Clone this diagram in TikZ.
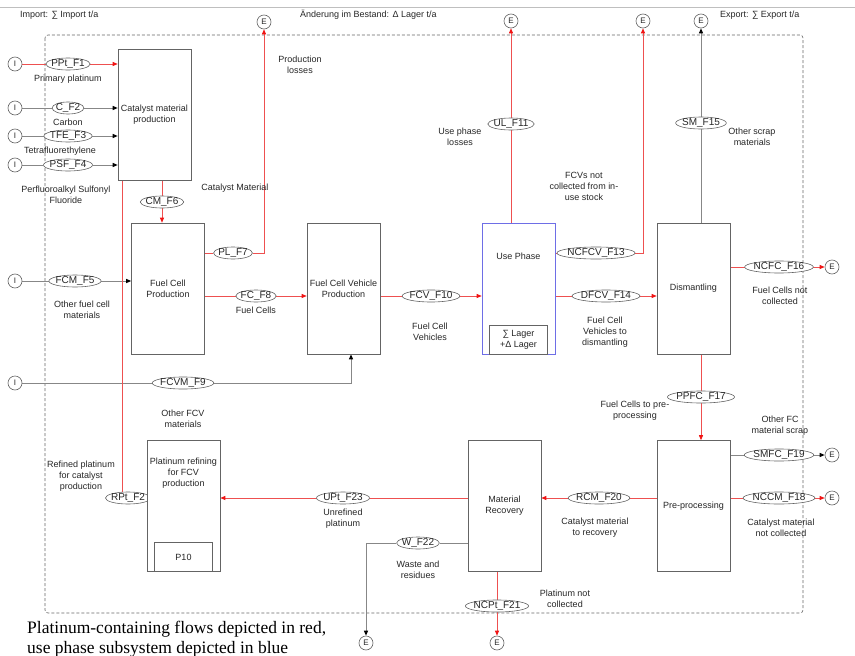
\documentclass[tikz,border=0pt]{standalone}
\usepackage{fontspec}
\setmainfont{Liberation Serif}
\setsansfont{Liberation Sans}
\usetikzlibrary{shapes.geometric, arrows.meta, positioning, backgrounds}
\definecolor{ptred}{RGB}{238,80,80}
\definecolor{tipred}{RGB}{240,20,20}
\definecolor{flowgray}{RGB}{135,135,135}
\definecolor{boxgray}{RGB}{100,100,100}
\definecolor{useblue}{RGB}{110,110,230}
\tikzset{
    base/.style = {
        draw=boxgray, line width=0.6pt, fill=white, text=black!85,
        align=center, font=\sffamily\fontsize{9}{11}\selectfont
    },
    % Processes and flows
    process/.style  = {base, rectangle, minimum width=73pt, minimum height=131pt, inner sep=0pt},
    stock/.style    = {base, rectangle, minimum width=58pt, minimum height=29pt, inner sep=0pt},
    flow/.style     = {base, ellipse, inner xsep=-1pt, inner ysep=0pt, text height=7pt, text depth=1.5pt,
                       font=\sffamily\fontsize{10}{11}\selectfont},
    terminal/.style = {base, circle, minimum size=14pt, inner sep=0pt, font=\sffamily\fontsize{8}{8}\selectfont},
    % Edges and annotations
    ptline/.style   = {draw=ptred, line width=0.7pt},
    ptflow/.style   = {ptline, -{Triangle[length=5pt, width=4pt, color=tipred]}},
    arrow/.style    = {draw=flowgray, line width=1pt, -{Triangle[length=5pt, width=4pt, color=black]}},
    boundary/.style = {draw=black!60, line width=0.6pt, dash pattern=on 3pt off 2pt, rounded corners=3pt},
    annotation/.style = {font=\sffamily\fontsize{9}{11}\selectfont, text=black!85, align=center, inner sep=1pt}
}

\begin{document}
\begin{tikzpicture}[x=1pt, y=-1pt]
    \useasboundingbox (0,0) rectangle (855,656);
    \draw [black!25, line width=0.8pt] (0,7) -- (855,7);

    \node (imp) [annotation, anchor=west] at (19,15) {Import: ∑ Import t/a};
    \node (chg) [annotation, anchor=west] at (299,15) {Änderung im Bestand: Δ Lager t/a};
    \node (exp) [annotation, anchor=west] at (719,15) {Export: ∑ Export t/a};

    % Processes
    \node (f2b) [flow] at (128,498) {RPt\_F2};
    \node (cmp)  [process] at (154.5,115) {Catalyst material\\production};
    \node (fcp)  [process] at (168,288.5) {Fuel Cell\\Production};
    \node (fcvp) [process] at (343.5,288.5) {Fuel Cell Vehicle\\Production};
    \node (use)  [process, draw=useblue] at (518.5,288.5) {};
    \node (usetxt) [annotation] at (518.5,256) {Use Phase};
    \node (lager) [stock, above=0pt of use.south] {∑ Lager\\+Δ Lager};
    \node (dis)  [process] at (693.5,288.5) {Dismantling};
    \node (pre)  [process] at (693.5,506) {Pre-processing};
    \node (mr)   [process] at (504.5,506) {Material\\Recovery};
    \node (pr)   [process] at (183.5,506) {};
    \node (prtxt) [annotation] at (183.5,473) {Platinum refining\\for FCV\\production};
    \node (p10)  [stock, above=0pt of pr.south] {P10};

    % Imports and exports
    \node (i1) [terminal] at (15,64) {I};
    \node (i2) [terminal] at (15,108) {I};
    \node (i3) [terminal] at (15,136) {I};
    \node (i4) [terminal] at (15,165) {I};
    \node (i5) [terminal] at (15,281) {I};
    \node (i6) [terminal] at (15,383) {I};
    \node (e1) [terminal] at (264,22) {E};
    \node (e2) [terminal] at (511,21) {E};
    \node (e3) [terminal] at (643,21) {E};
    \node (e4) [terminal] at (701,21) {E};
    \node (e5) [terminal] at (832,267) {E};
    \node (e6) [terminal] at (832,455) {E};
    \node (e7) [terminal] at (832,498) {E};
    \node (e8) [terminal] at (366,643) {E};
    \node (e9) [terminal] at (497,643) {E};

    % Flows
    \node (f1)  [flow] at (68,64) {PPt\_F1};
    \node (f2)  [flow] at (68,108) {C\_F2};
    \node (f3)  [flow] at (68,136) {TFE\_F3};
    \node (f4)  [flow] at (68,165) {PSF\_F4};
    \node (f5)  [flow] at (75,281) {FCM\_F5};
    \node (f6)  [flow] at (162,202) {CM\_F6};
    \node (f7)  [flow] at (233,253) {PL\_F7};
    \node (f8)  [flow] at (256,296) {FC\_F8};
    \node (f9)  [flow] at (183,383) {FCVM\_F9};
    \node (f10) [flow] at (431,296) {FCV\_F10};
    \node (f11) [flow] at (511,124) {UL\_F11};
    \node (f13) [flow] at (596,253) {NCFCV\_F13};
    \node (f14) [flow] at (606,296) {DFCV\_F14};
    \node (f15) [flow] at (701,123) {SM\_F15};
    \node (f16) [flow] at (779,267) {NCFC\_F16};
    \node (f17) [flow] at (701,397) {PPFC\_F17};
    \node (f18) [flow] at (779,498) {NCCM\_F18};
    \node (f19) [flow] at (779,455) {SMFC\_F19};
    \node (f20) [flow] at (599,498) {RCM\_F20};
    \node (f21) [flow] at (497,606) {NCPt\_F21};
    \node (f22) [flow] at (418,543) {W\_F22};
    \node (f23) [flow] at (343,498) {UPt\_F23};

    % Flow names
    \node (l1)  [annotation, below=3pt of f1] {Primary platinum};
    \node (l2)  [annotation, below=3pt of f2] {Carbon};
    \node (l3)  [annotation] at (60,151) {Tetrafluorethylene};
    \node (l4)  [annotation] at (66,195) {Perfluoroalkyl Sulfonyl\\Fluoride};
    \node (l5)  [annotation] at (82,310) {Other fuel cell\\materials};
    \node (l6)  [annotation] at (235,188) {Catalyst Material};
    \node (l7)  [annotation] at (300,65) {Production\\losses};
    \node (l8)  [annotation, below=3pt of f8] {Fuel Cells};
    \node (l9)  [annotation] at (183,419) {Other FCV\\materials};
    \node (l10) [annotation] at (430,332) {Fuel Cell\\Vehicles};
    \node (l11) [annotation] at (460,137) {Use phase\\losses};
    \node (l13) [annotation] at (584,186) {FCVs not\\collected from in-\\use stock};
    \node (l14) [annotation] at (605,332) {Fuel Cell\\Vehicles to\\dismantling};
    \node (l15) [annotation] at (752,137) {Other scrap\\materials};
    \node (l16) [annotation] at (780,296) {Fuel Cells not\\collected};
    \node (l17) [annotation] at (635,411) {Fuel Cells to pre-\\processing};
    \node (l18) [annotation] at (781,528) {Catalyst material\\not collected};
    \node (l19) [annotation] at (780,426) {Other FC\\material scrap};
    \node (l20) [annotation] at (595,528) {Catalyst material\\to recovery};
    \node (l21) [annotation] at (565,599) {Platinum not\\collected};
    \node (l22) [annotation] at (418,570) {Waste and\\residues};
    \node (l23) [annotation, below=3pt of f23] {Unrefined\\platinum};
    \node (l2b) [annotation] at (81,476) {Refined platinum\\for catalyst\\production};

    \node (note) [anchor=base west, align=left, inner sep=0pt, font=\fontsize{17.5}{20}\selectfont]
        at (27,653) {Platinum-containing flows depicted in red,\\use phase subsystem depicted in blue};

    \begin{scope}[on background layer]
        % System boundary
        \draw [boundary] (45,35) rectangle (803,613);
        % Connectors
        \draw [ptflow] (i1) -- (f1) -- (f1 -| cmp.west);
        \draw [arrow] (i2) -- (f2) -- (f2 -| cmp.west);
        \draw [arrow] (i3) -- (f3) -- (f3 -| cmp.west);
        \draw [arrow] (i4) -- (f4) -- (f4 -| cmp.west);
        \draw [arrow] (i5) -- (f5) -- (f5 -| fcp.west);
        \draw [ptflow] (f6 |- cmp.south) -- (f6 |- fcp.north);
        \draw [ptflow] (f7 -| fcp.east) -- (f7) -| (e1);
        \draw [ptflow] (f8 -| fcp.east) -- (f8 -| fcvp.west);
        \draw [arrow] (i6) -- (f9) -| ([xshift=7.5pt]fcvp.south);
        \draw [ptflow] (f10 -| fcvp.east) -- (f10 -| use.west);
        \draw [ptflow] (f11 |- use.north) -- (e2);
        \draw [ptflow] (f13 -| use.east) -- (f13) -| (e3);
        \draw [ptflow] (f14 -| use.east) -- (f14 -| dis.west);
        \draw [arrow] (f15 |- dis.north) -- (e4);
        \draw [ptflow] (f16 -| dis.east) -- (e5);
        \draw [ptflow] (f17 |- dis.south) -- (f17 |- pre.north);
        \draw [arrow] (f19 -| pre.east) -- (e6);
        \draw [ptflow] (f18 -| pre.east) -- (e7);
        \draw [ptflow] (f20 -| pre.west) -- (f20 -| mr.east);
        \draw [ptflow] (f23 -| mr.west) -- (f23 -| pr.east);
        \draw [arrow] (f22 -| mr.west) -- (f22) -| (e8);
        \draw [ptflow] (f21 |- mr.south) -- (e9);
        \draw [ptline] (f2b -| pr.west) -- ([xshift=-6pt]f2b.center) -- ([xshift=-6pt]f2b.center |- cmp.south);
    \end{scope}
\end{tikzpicture}
\end{document}
